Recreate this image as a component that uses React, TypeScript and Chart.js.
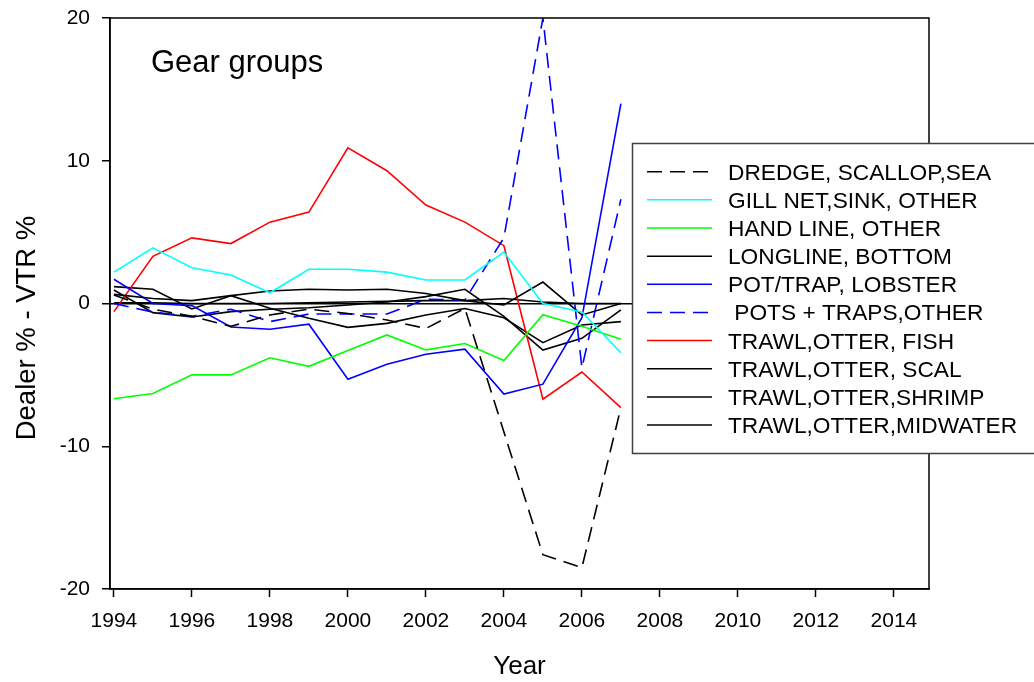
import React, { useEffect, useRef } from 'react';
import { Chart, registerables } from 'chart.js';

Chart.register(...registerables);

const FONT = "'Liberation Sans', Arial, sans-serif";

const years = [1994, 1995, 1996, 1997, 1998, 1999, 2000, 2001, 2002, 2003, 2004, 2005, 2006, 2007];

const dredge = [0.6, -0.4, -0.9, -1.6, -0.8, -0.4, -0.7, -1.15, -1.75, -0.35, -9.0, -17.6, -18.5, -7.3];
const gillNet = [2.2, 3.9, 2.5, 2.0, 0.75, 2.4, 2.4, 2.2, 1.65, 1.65, 3.6, 0.0, -0.6, -3.45];
const handLine = [-6.67, -6.3, -5.0, -5.0, -3.8, -4.4, -3.3, -2.2, -3.25, -2.8, -4.0, -0.78, -1.6, -2.5];
const longline = [0.64, 0.35, 0.2, 0.55, 0.88, 1.0, 0.95, 1.0, 0.7, 0.2, -0.1, 1.5, -0.8, 0.0];
const potLobster = [1.7, 0.0, -0.15, -1.65, -1.8, -1.45, -5.3, -4.25, -3.55, -3.2, -6.35, -5.65, -1.0, 14.0];
const potsOther = [0.0, -0.6, -0.9, -0.4, -1.27, -0.74, -0.74, -0.74, 0.3, 0.25, 4.6, 20.0, -4.5, 7.3];
const trawlFish = [-0.57, 3.3, 4.6, 4.2, 5.7, 6.4, 10.9, 9.3, 6.9, 5.7, 4.05, -6.7, -4.8, -7.3];
const trawlScal = [1.18, 1.0, -0.38, 0.55, -0.34, -1.04, -1.67, -1.39, -0.8, -0.35, -1.0, -2.74, -1.5, -1.27];
const trawlShrimp = [0.95, -0.64, -0.95, -0.57, -0.4, -0.3, -0.1, 0.1, 0.48, 1.0, -0.9, -3.26, -2.44, -0.45];
const trawlMidwater = [0.05, 0.05, 0.0, 0.0, 0.0, 0.05, 0.1, 0.15, 0.2, 0.2, 0.35, 0.1, 0.0, 0.0];

const seriesLabels = [
  'DREDGE, SCALLOP,SEA',
  'GILL NET,SINK, OTHER',
  'HAND LINE, OTHER',
  'LONGLINE, BOTTOM',
  'POT/TRAP, LOBSTER',
  ' POTS + TRAPS,OTHER',
  'TRAWL,OTTER, FISH',
  'TRAWL,OTTER, SCAL',
  'TRAWL,OTTER,SHRIMP',
  'TRAWL,OTTER,MIDWATER',
];
const seriesValues = [dredge, gillNet, handLine, longline, potLobster, potsOther, trawlFish, trawlScal, trawlShrimp, trawlMidwater];
const seriesColors = ['#000000', '#00FFFF', '#00FF00', '#000000', '#0000FF', '#0000FF', '#FF0000', '#000000', '#000000', '#000000'];
const seriesDashed = [true, false, false, false, false, true, false, false, false, false];

const xTicks = [1994, 1996, 1998, 2000, 2002, 2004, 2006, 2008, 2010, 2012, 2014];
const yTicks = [-20, -10, 0, 10, 20];
const chartTitle = 'Gear groups';
const xTitle = 'Year';
const yTitle = 'Dealer % - VTR %';

const DASH = [15, 8];

const decorPlugin = {
  id: 'decor',
  afterDatasetsDraw(chart: any) {
    const { ctx, chartArea: a } = chart;
    ctx.save();
    ctx.strokeStyle = '#000';
    ctx.lineWidth = 1.5;
    ctx.strokeRect(a.left, a.top, a.right - a.left, a.bottom - a.top);
    ctx.restore();
  },
  afterDraw(chart: any) {
    const { ctx } = chart;
    ctx.save();
    // title
    ctx.fillStyle = '#000';
    ctx.font = `31px ${FONT}`;
    ctx.textBaseline = 'alphabetic';
    ctx.textAlign = 'left';
    ctx.fillText(chartTitle, 151, 72);
    // y axis title
    ctx.save();
    ctx.translate(35, 328);
    ctx.rotate(-Math.PI / 2);
    ctx.font = `27.5px ${FONT}`;
    ctx.textAlign = 'center';
    ctx.fillText(yTitle, 0, 0);
    ctx.restore();
    // legend box
    const bx = 632, by = 143, bw = 420, bh = 310;
    ctx.fillStyle = '#fff';
    ctx.fillRect(bx, by, bw, bh);
    ctx.strokeStyle = '#404040';
    ctx.lineWidth = 1.5;
    ctx.strokeRect(bx + 0.5, by + 0.5, bw, bh);
    ctx.font = `22.7px ${FONT}`;
    ctx.textAlign = 'left';
    chart.data.datasets.forEach((ds: any, i: number) => {
      const y = 171.7 + i * 28.15;
      ctx.beginPath();
      ctx.strokeStyle = ds.borderColor;
      ctx.lineWidth = 1.5;
      ctx.setLineDash(ds.borderDash || []);
      ctx.moveTo(647, y);
      ctx.lineTo(712, y);
      ctx.stroke();
      ctx.setLineDash([]);
      ctx.fillStyle = '#000';
      ctx.fillText(ds.label, 728, y + 7.9);
    });
    ctx.restore();
  },
};

export default function App() {
  const ref = useRef<HTMLCanvasElement>(null);
  useEffect(() => {
    if (!ref.current) return;
    const datasets = seriesLabels.map((label, k) => ({
      label,
      data: seriesValues[k].map((v, i) => ({ x: years[i], y: v })),
      borderColor: seriesColors[k],
      backgroundColor: seriesColors[k],
      borderWidth: 1.6,
      borderDash: seriesDashed[k] ? DASH : [],
      pointRadius: 0,
      tension: 0,
      fill: false,
    }));
    const chart = new Chart(ref.current, {
      type: 'line',
      data: { datasets },
      options: {
        animation: false,
        responsive: false,
        maintainAspectRatio: false,
        layout: { padding: { top: 18, right: 105, left: 0, bottom: 0 } },
        plugins: { legend: { display: false }, tooltip: { enabled: false } },
        scales: {
          x: {
            type: 'linear',
            min: 1993.9,
            max: 2014.9,
            afterBuildTicks: (s: any) => {
              s.ticks = xTicks.map((v) => ({ value: v }));
            },
            afterFit: (s: any) => {
              s.height = 93;
              s.paddingLeft = 0;
              s.paddingRight = 0;
            },
            ticks: {
              callback: (v: any) => String(v),
              font: { family: FONT, size: 21 },
              color: '#000',
              padding: 12,
              maxRotation: 0,
              autoSkip: false,
            },
            grid: { drawOnChartArea: false, tickLength: 8, tickColor: '#000', tickWidth: 1.5 },
            border: { color: '#000', width: 1.5 },
            title: {
              display: true,
              text: xTitle,
              color: '#000',
              font: { family: FONT, size: 26 },
              padding: { top: 0, bottom: 0 },
            },
          },
          y: {
            type: 'linear',
            min: -20,
            max: 20,
            afterBuildTicks: (s: any) => {
              s.ticks = yTicks.map((v) => ({ value: v }));
            },
            afterFit: (s: any) => {
              s.width = 110;
              s.paddingTop = 0;
              s.paddingBottom = 0;
            },
            ticks: {
              callback: (v: any) => String(v),
              font: { family: FONT, size: 21 },
              color: '#000',
              padding: 12,
            },
            grid: {
              color: (c: any) => (c.tick && c.tick.value === 0 ? '#000' : 'rgba(0,0,0,0)'),
              lineWidth: 1.5,
              tickLength: 8,
              tickColor: '#000',
              tickWidth: 1.5,
            },
            border: { color: '#000', width: 1.5 },
            title: { display: false },
          },
        },
      },
      plugins: [decorPlugin],
    } as any);
    return () => chart.destroy();
  }, []);
  return (
    <div style={{ position: 'fixed', left: 0, top: 0, width: 1034, height: 682, background: '#fff' }}>
      <canvas ref={ref} width={1034} height={682} style={{ display: 'block' }} />
    </div>
  );
}
